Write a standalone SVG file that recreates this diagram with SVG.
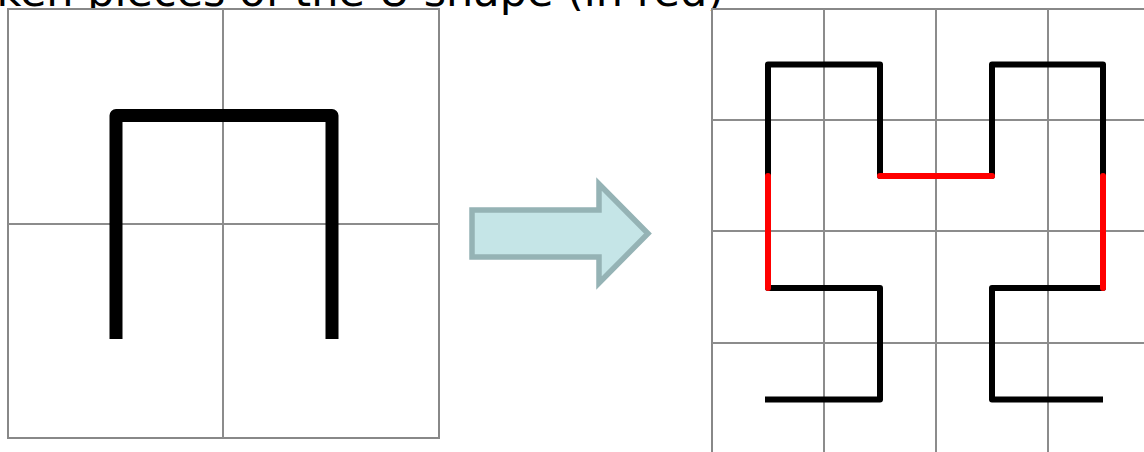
<svg xmlns="http://www.w3.org/2000/svg" width="1144" height="452" viewBox="0 0 1144 452">
  <style>
    .title { font-family: "DejaVu Sans", Verdana, sans-serif; font-size: 43px; fill: #000; }
    .panel { fill: #fff; stroke: #888; stroke-width: 2; }
    .grid { stroke: #8c8c8c; stroke-width: 2; fill: none; }
    .curve { fill: none; stroke: #000; stroke-linejoin: round; }
    .broken { fill: none; stroke: #ff0000; stroke-width: 6; stroke-linecap: round; }
    .arrow { fill: #c5e5e7; stroke: #95b3b5; stroke-width: 5.5; stroke-linejoin: miter; }
  </style>

  <!-- caption, partly hidden behind the panels -->
  <text class="title" x="-76" y="6">Broken pieces of the U shape (in red)</text>

  <!-- first-order curve on a 2x2 grid -->
  <g id="order1">
    <rect class="panel" x="8" y="9" width="431" height="429"/>
    <path class="grid" d="M223 9 V438 M8 224 H439"/>
    <path class="curve" stroke-width="13" d="M116 339 V115.5 H332 V339"/>
  </g>

  <!-- transition arrow -->
  <g id="step-arrow">
    <polygon class="arrow" points="472,210 599,210 599,184 648,233.5 599,283 599,257 472,257"/>
  </g>

  <!-- second-order curve on a 4x4 grid -->
  <g id="order2">
    <rect class="panel" x="712" y="9" width="460" height="460"/>
    <path class="grid" d="M824 9 V452 M936 9 V452 M1048 9 V452 M712 120 H1144 M712 231 H1144 M712 343 H1144"/>
    <path class="curve" stroke-width="6"
          d="M765 399.5 H880 V288 H768 V64.5 H880 V176 H992 V64.5 H1103 V288 H992 V399.5 H1103"/>
    <g id="connectors">
      <path class="broken" d="M768 288 V176"/>
      <path class="broken" d="M880 176 H992"/>
      <path class="broken" d="M1103 176 V288"/>
    </g>
  </g>
</svg>
